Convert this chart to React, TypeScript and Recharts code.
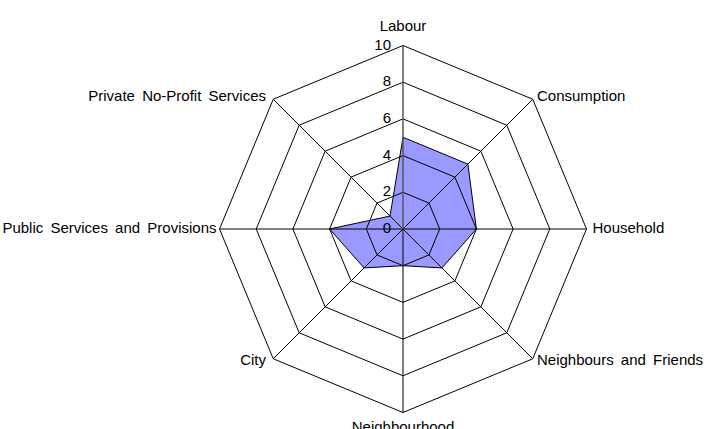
import React from 'react';
import { RadarChart, Radar, PolarGrid, PolarAngleAxis, PolarRadiusAxis } from 'recharts';

const categories = [
  'Labour',
  'Consumption',
  'Household',
  'Neighbours and Friends',
  'Neighbourhood',
  'City',
  'Public Services and Provisions',
  'Private No-Profit Services',
];
const values = [5, 5, 4, 3, 2, 3, 4, 1];
const radiusTicks = [0, 2, 4, 6, 8, 10];

const data = categories.map((c, i) => ({ name: c, value: values[i] }));

const FONT = '"Liberation Sans", Arial, sans-serif';
const FS = 15;

const AngleTick = (props: any) => {
  const { x, y, cx, cy, payload } = props;
  const dxv = x - cx;
  const dyv = y - cy;
  let anchor: 'start' | 'middle' | 'end' = 'middle';
  let tx = x;
  if (dxv > 1) anchor = 'start';
  else if (dxv < -1) {
    anchor = 'end';
    tx = Math.abs(dyv) <= 1 ? x + 3 : x - 3;
  }
  let ty = y;
  let baseline: any = 'central';
  if (Math.abs(dxv) <= 1) {
    baseline = 'alphabetic';
    ty = dyv < 0 ? y - 9 : y + 13;
  } else if (dyv > 1) {
    ty = y - 3.5;
  } else if (Math.abs(dyv) <= 1) {
    ty = y - 1.5;
  }
  return (
    <text
      x={tx}
      y={ty}
      textAnchor={anchor}
      dominantBaseline={baseline}
      fontFamily={FONT}
      fontSize={FS}
      fill="#000"
      style={{ wordSpacing: 3 }}
    >
      {payload.value}
    </text>
  );
};

const RadiusTick = (props: any) => {
  const { x, y, payload } = props;
  return (
    <text x={x - 12} y={y - 1.5} textAnchor="end" dominantBaseline="central" fontFamily={FONT} fontSize={FS} fill="#000">
      {payload.value}
    </text>
  );
};

export default function App() {
  const gridProps: any = { zIndex: 300 };
  return (
    <div style={{ position: 'absolute', left: 0, top: 0, width: 711, height: 429, background: '#fff' }}>
      <RadarChart
        width={711}
        height={429}
        data={data}
        cx={403}
        cy={229}
        outerRadius={183.5}
        startAngle={90}
        endAngle={-270}
        margin={{ top: 0, right: 0, bottom: 0, left: 0 }}
      >
        <Radar
          dataKey="value"
          fill="#9999FF"
          fillOpacity={1}
          stroke="#000"
          strokeWidth={1}
          isAnimationActive={false}
        />
        <PolarGrid gridType="polygon" stroke="#000" strokeOpacity={1} {...gridProps} />
        <PolarAngleAxis dataKey="name" tick={AngleTick} tickLine={false} tickSize={6} axisLine={false} />
        <PolarRadiusAxis
          angle={90}
          domain={[0, 10]}
          ticks={radiusTicks as any}
          tickCount={6}
          orientation="left"
          tick={RadiusTick}
          tickLine={false}
          axisLine={{ stroke: '#808080' }}
        />
        <PolarRadiusAxis
          radiusAxisId="lower"
          angle={270}
          domain={[0, 10]}
          tick={false}
          tickLine={false}
          axisLine={{ stroke: '#808080' }}
        />
      </RadarChart>
    </div>
  );
}
